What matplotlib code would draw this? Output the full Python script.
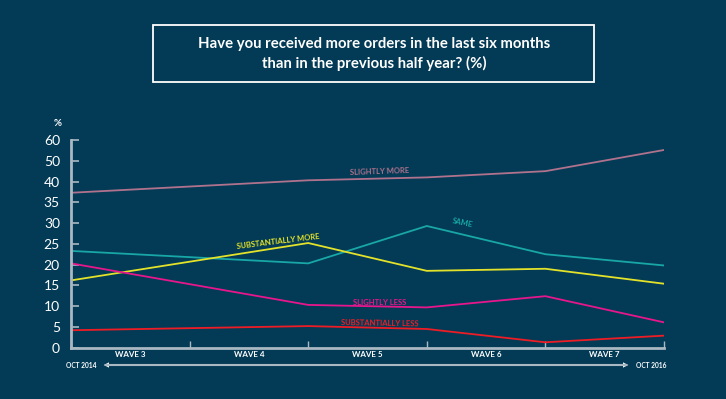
import matplotlib.pyplot as plt
from matplotlib.patches import Rectangle

bg = '#033b56'
axis_col = '#a9b8c2'

plt.rcParams['font.family'] = ['Lato', 'DejaVu Sans']

waves = ['WAVE 3', 'WAVE 4', 'WAVE 5', 'WAVE 6', 'WAVE 7']
xpos = [0, 2, 3, 4, 5]
yticks = [0, 5, 10, 15, 20, 25, 30, 35, 40, 45, 50]
ylabels = ['0', '5', '10', '15', '20', '25', '30', '35', '40', '50', '60']

slightly_more = [37.3, 40.3, 41.0, 42.5, 47.6]
same = [23.3, 20.3, 29.3, 22.5, 19.8]
substantially_more = [16.2, 25.2, 18.5, 19.0, 15.4]
slightly_less = [20.3, 10.3, 9.7, 12.4, 6.1]
substantially_less = [4.2, 5.2, 4.5, 1.3, 2.9]

fig = plt.figure(figsize=(7.26, 3.99), dpi=100, facecolor=bg)
ax = fig.add_axes([0.0978, 0.1286, 0.8168, 0.5205], facecolor=bg)

ax.plot(xpos, slightly_more, color='#b0728c', lw=1.3)
ax.plot(xpos, same, color='#18a7a6', lw=1.3)
ax.plot(xpos, substantially_more, color='#e3e22a', lw=1.3)
ax.plot(xpos, slightly_less, color='#e8168c', lw=1.3)
ax.plot(xpos, substantially_less, color='#ee1c25', lw=1.3)

# series labels along lines
ax.text(2.6, 41.3, 'SLIGHTLY MORE', color='#b0728c', fontsize=5.5, rotation=2,
        ha='center', va='bottom', fontweight='bold')
ax.text(3.3, 28.8, 'SAME', color='#18a7a6', fontsize=5.5, rotation=-12,
        ha='center', va='bottom', fontweight='bold')
ax.text(1.75, 23.6, 'SUBSTANTIALLY MORE', color='#e3e22a', fontsize=5.5, rotation=7,
        ha='center', va='bottom', fontweight='bold')
ax.text(2.6, 10.0, 'SLIGHTLY LESS', color='#e8168c', fontsize=5.5, rotation=0,
        ha='center', va='bottom', fontweight='bold')
ax.text(2.6, 4.8, 'SUBSTANTIALLY LESS', color='#ee1c25', fontsize=5.5, rotation=-1,
        ha='center', va='bottom', fontweight='bold')

ax.set_xlim(0, 5)
ax.set_ylim(0, 50)
ax.set_yticks(yticks)
ax.set_yticklabels(ylabels, color='white', fontsize=10)
ax.tick_params(axis='y', direction='in', length=6, width=1.2, color=axis_col, pad=8)
ax.set_xticks([0, 1, 2, 3, 4, 5])
ax.set_xticklabels([])
ax.tick_params(axis='x', direction='in', length=5, width=1, color=axis_col)
for i, w in enumerate(waves):
    ax.text(i + 0.5, -0.7, w, color='white', fontsize=5.8, ha='center', va='top',
            fontweight='bold')

for s in ['top', 'right']:
    ax.spines[s].set_visible(False)
for s in ['left', 'bottom']:
    ax.spines[s].set_color(axis_col)
    ax.spines[s].set_linewidth(2)

fig.text(58 / 726, 1 - 124 / 399, '%', color='white', fontsize=7, fontweight='bold',
         ha='center', va='center')

# timeline arrow
fig.add_artist(plt.Line2D([106 / 726, 626 / 726], [1 - 365 / 399, 1 - 365 / 399],
                          color=axis_col, lw=1.5))
ax.annotate('', xy=(101 / 726, 1 - 365 / 399), xytext=(113 / 726, 1 - 365 / 399),
            xycoords='figure fraction',
            arrowprops=dict(arrowstyle='-|>', color='white', lw=0.1, mutation_scale=9))
ax.annotate('', xy=(631 / 726, 1 - 365 / 399), xytext=(619 / 726, 1 - 365 / 399),
            xycoords='figure fraction',
            arrowprops=dict(arrowstyle='-|>', color='white', lw=0.1, mutation_scale=9))
fig.text(96 / 726, 1 - 365 / 399, 'OCT 2014', color='white', fontsize=4.8, fontweight='bold',
         ha='right', va='center')
fig.text(636 / 726, 1 - 365 / 399, 'OCT 2016', color='white', fontsize=4.8, fontweight='bold',
         ha='left', va='center')

# title box
fig.add_artist(Rectangle((153 / 726, 1 - 82 / 399), (594 - 153) / 726, 57 / 399,
                         transform=fig.transFigure, fill=False, edgecolor='white', lw=1.3))
fig.text(374 / 726, 1 - 54 / 399,
         'Have you received more orders in the last six months\nthan in the previous half year? (%)',
         color='white', fontsize=10.7, fontweight='bold', ha='center', va='center',
         linespacing=1.45)

fig.savefig('out.png', dpi=100, facecolor=bg)
